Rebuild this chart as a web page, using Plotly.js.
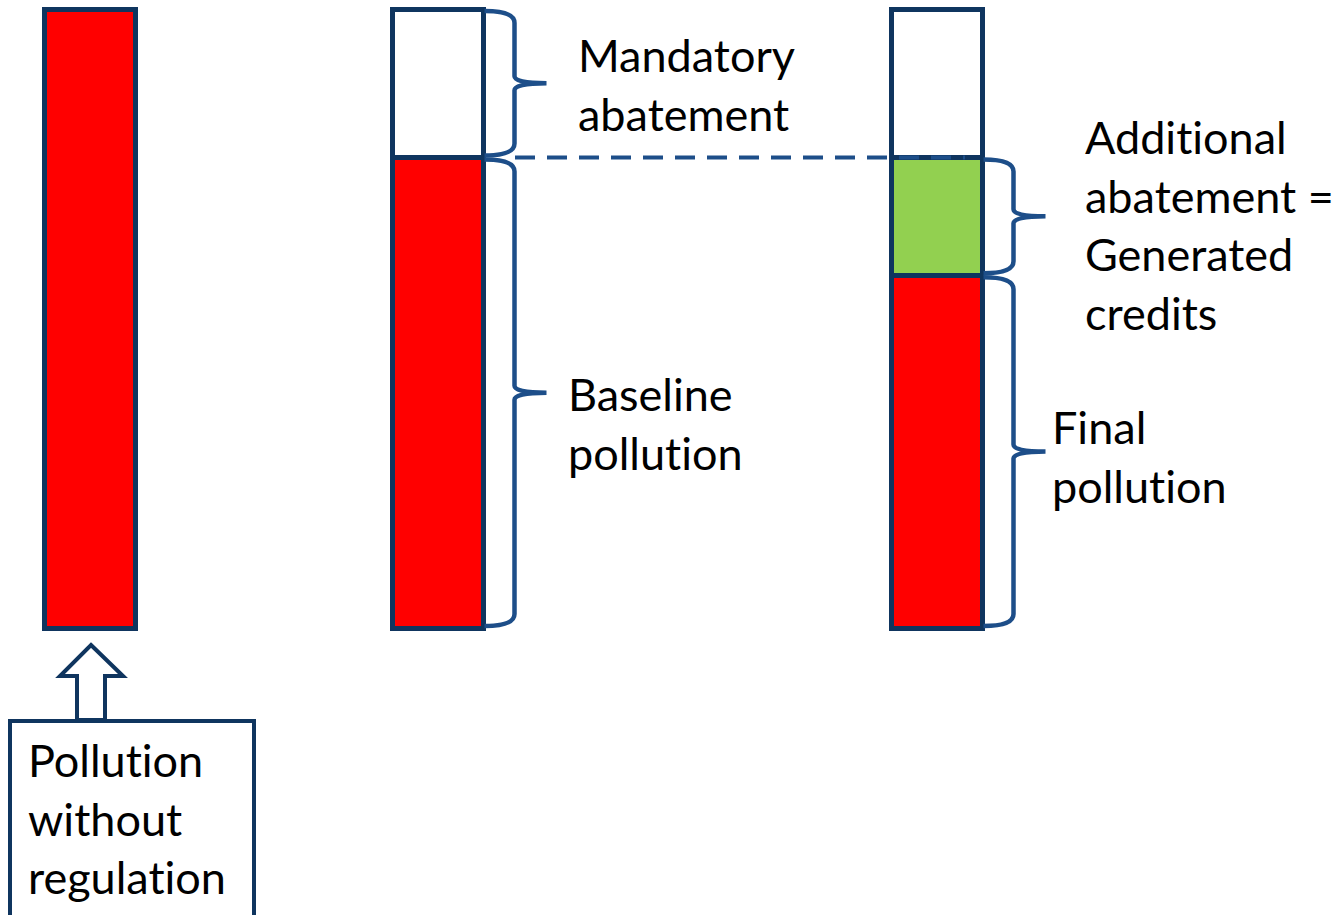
<!DOCTYPE html>
<html>
<head>
<meta charset="utf-8">
<script src="https://cdn.plot.ly/plotly-3.0.1.min.js"></script>
<style>html,body{margin:0;padding:0;background:#fff;}#chart{width:1340px;height:915px;}
#chart text{font-variant-ligatures:none;font-feature-settings:"liga" 0,"clig" 0;}</style>
</head>
<body>
<div id="chart"></div>
<script>
// ---- data ----
const categories = ['Pollution without regulation', 'Baseline', 'With additional abatement'];
const redPollution = [100, 76, 57];          // pollution (red)
const greenCredits = [null, null, 19];       // additional abatement = generated credits
const whiteAbatement = [null, 24, 24];       // mandatory abatement
const labelMandatory = 'Mandatory<br>abatement';
const labelBaseline = 'Baseline<br>pollution';
const labelAdditional = 'Additional<br>abatement =<br>Generated<br>credits';
const labelFinal = 'Final<br>pollution';
const labelBox = 'Pollution<br>without<br>regulation';

// ---- layout config ----
const W = 1340, H = 915;
const barCenters = [90, 438, 937];
const barWidth = 91;
const SCALE = 6.19;           // px per unit
const Y0PX = 628;             // pixel row of value 0
const yRange = [-(H - Y0PX) / SCALE, Y0PX / SCALE];
const navy = '#0f355f';
const braceBlue = '#1d4e89';
const FONT = 'Lato, "Open Sans", sans-serif';

const yp = px => 1 - px / H;   // pixel row -> paper
const off = px => px / SCALE;  // pixel length -> value units

const common = {type: 'bar', x: barCenters, width: barWidth, hoverinfo: 'skip'};
const traces = [
  Object.assign({}, common, {y: redPollution, name: 'Pollution', marker: {color: '#ff0000', line: {color: navy, width: 5}}}),
  Object.assign({}, common, {y: greenCredits, name: 'Credits', marker: {color: '#92d050', line: {color: navy, width: 5}}}),
  Object.assign({}, common, {y: whiteAbatement, name: 'Mandatory', marker: {color: '#ffffff', line: {color: navy, width: 5}}})
];

function brace(xEdge, vTop, vBot) {
  const xv = xEdge + 30, xt = xEdge + 62;
  const t = vTop - off(2), b = vBot + off(2), m = (vTop + vBot) / 2;
  const c = off(12), k = off(7);
  const p = 'M ' + xEdge + ',' + t +
    ' Q ' + xv + ',' + t + ' ' + xv + ',' + (t - c) +
    ' L ' + xv + ',' + (m + k) +
    ' Q ' + xv + ',' + m + ' ' + xt + ',' + m +
    ' Q ' + xv + ',' + m + ' ' + xv + ',' + (m - k) +
    ' L ' + xv + ',' + (b + c) +
    ' Q ' + xv + ',' + b + ' ' + xEdge + ',' + b;
  return {type: 'path', xref: 'x', yref: 'y', path: p, line: {color: braceBlue, width: 4.5}};
}

const right2 = barCenters[1] + barWidth / 2 + 1;
const right3 = barCenters[2] + barWidth / 2 + 1;
const top2 = redPollution[1] + whiteAbatement[1];
const top3g = redPollution[2] + greenCredits[2];

const shapes = [
  brace(right2, top2, redPollution[1]),
  brace(right2, redPollution[1], 0),
  brace(right3, top3g, redPollution[2]),
  brace(right3, redPollution[2], 0),
  {type: 'line', xref: 'x', yref: 'y', x0: 515, x1: 965, y0: redPollution[1], y1: redPollution[1],
   line: {color: braceBlue, width: 4, dash: '20px,12px'}},
  // hollow up arrow
  {type: 'path', xref: 'x', yref: 'paper',
   path: 'M 91,' + yp(645) + ' L 123,' + yp(676) + ' L 105,' + yp(676) + ' L 105,' + yp(720) +
         ' L 77,' + yp(720) + ' L 77,' + yp(676) + ' L 60,' + yp(676) + ' Z',
   fillcolor: '#ffffff', line: {color: navy, width: 4}},
  // box
  {type: 'rect', xref: 'x', yref: 'paper', x0: 10, x1: 254, y0: yp(721), y1: yp(925),
   fillcolor: 'rgba(0,0,0,0)', line: {color: navy, width: 4}}
];

const ann = (text, x, pyc) => ({text: text, x: x, y: yp(pyc), xref: 'x', yref: 'paper',
  xanchor: 'left', yanchor: 'middle', align: 'left', showarrow: false,
  font: {family: FONT, size: 45, color: '#000000'}});

const annotations = [
  ann(labelMandatory, 576, 85),
  ann(labelBaseline, 566, 423),
  ann(labelAdditional, 1083, 225),
  ann(labelFinal, 1050, 456),
  ann(labelBox, 26, 818)
];

const layout = {
  width: W, height: H, margin: {l: 0, r: 0, t: 0, b: 0},
  paper_bgcolor: '#ffffff', plot_bgcolor: '#ffffff',
  barmode: 'stack', showlegend: false, hovermode: false,
  xaxis: {range: [0, W], visible: false, fixedrange: true},
  yaxis: {range: yRange, visible: false, fixedrange: true},
  shapes: shapes, annotations: annotations
};

Plotly.newPlot('chart', traces, layout, {staticPlot: true, displayModeBar: false});
</script>
</body>
</html>
